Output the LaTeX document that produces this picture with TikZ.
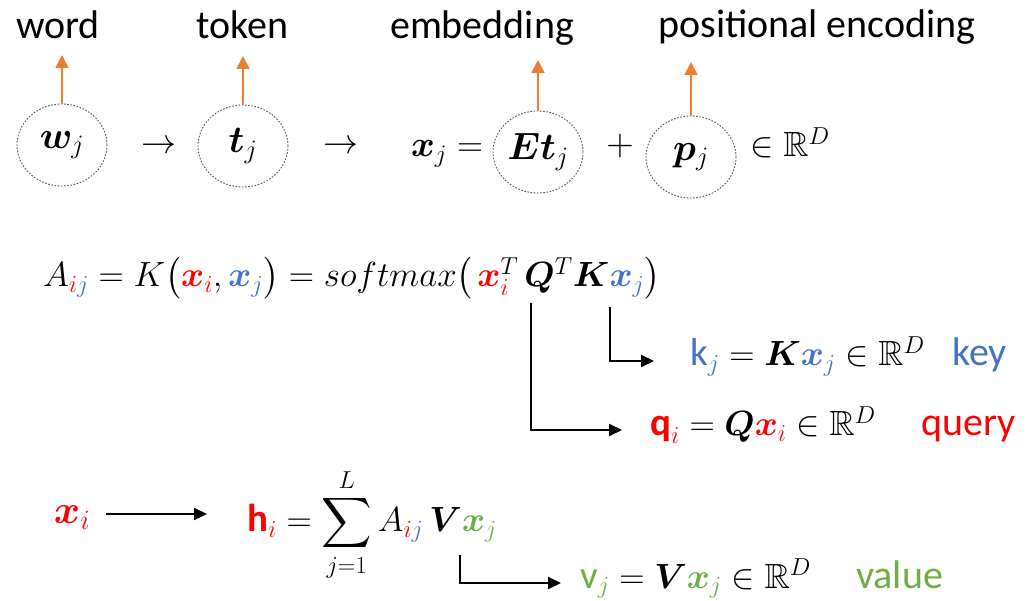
\RequirePackage{fix-cm}
\documentclass[tikz,border=0pt]{standalone}
\usepackage{amsmath,amssymb,bm}
\usepackage{fontspec}
\setmainfont{Carlito}
\usetikzlibrary{arrows.meta,shapes.geometric}
\definecolor{myred}{RGB}{255,0,0}
\definecolor{myblue}{RGB}{68,114,196}
\definecolor{mygreen}{RGB}{112,173,71}
\definecolor{myorange}{RGB}{237,125,49}
\definecolor{circcol}{RGB}{68,84,106}
\newcommand{\vtxt}[1]{\text{\fontsize{39}{46}\selectfont #1}}
\tikzset{
  lbl/.style={font=\fontsize{40}{48}\selectfont, anchor=base, inner sep=0},
  mth/.style={font=\fontsize{35}{42}\selectfont, inner sep=0},
  bigmth/.style={font=\fontsize{40}{48}\selectfont, inner sep=0},
  circnode/.style={ellipse, draw=circcol, dash pattern=on 1.6pt off 1.6pt, line width=0.9pt,
    minimum width=90pt, minimum height=82pt, inner sep=0, font=\fontsize{38}{46}\selectfont},
  oarr/.style={draw=myorange, line width=1.8pt, -{Triangle[width=13pt,length=13pt]}},
  barr/.style={draw=black, line width=2pt, -{Triangle[width=12pt,length=13pt]}},
  chain/.style={mth, anchor=base west}
}
\begin{document}
\begin{tikzpicture}[x=1pt,y=-1pt]
\useasboundingbox (0,0) rectangle (1034,601);
% top labels
\node[lbl] (word) at (58,39) {word};
\node[lbl] (token) at (242,39) {token};
\node[lbl] (emb) at (482,39) {embedding};
\node[lbl] (pos) at (817,38) {positional encoding};
% circles
\node[circnode] (cw) at (62,145) {$\bm{w}_j$};
\node[circnode] (ct) at (243,146) {$\bm{t}_j$};
\node[circnode] (cE) at (538,152) {$\bm{E}\bm{t}_j$};
\node[circnode] (cp) at (691,157) {$\bm{p}_j$};
\coordinate (tw) at (62,55);
\coordinate (tt) at (243,56);
\coordinate (tE) at (538,60);
\coordinate (tp) at (691,62);
\draw[oarr] (cw.north) -- (tw);
\draw[oarr] (ct.north) -- (tt);
\draw[oarr] (cE.north) -- (tE);
\draw[oarr] (cp.north) -- (tp);
\node[mth] (ar1) at (159,147) {$\rightarrow$};
\node[mth] (ar2) at (341,147) {$\rightarrow$};
\node[chain, font=\fontsize{36}{44}\selectfont] (xj) at (411,157) {$\bm{x}_j =$};
\node[mth, font=\fontsize{38}{46}\selectfont] (plus) at (620,146) {$+$};
\node[chain] (inR) at (750,157) {$\in\mathbb{R}^D$};
% attention equation
\node[chain] (A1) at (43,287) {$A_{\textcolor{myred}{i}\textcolor{myblue}{j}} = K\bigl(\textcolor{myred}{\bm{x}_i}, \textcolor{myblue}{\bm{x}_j}\bigr) = softmax\bigl($};
\node[chain] (xiT) at (A1.base east) {$\mkern2mu\textcolor{myred}{\bm{x}}_{\textcolor{myred}{i}}^{T}$};
\node[chain] (QK) at (xiT.base east) {$\,\bm{Q}^T\bm{K}$};
\node[chain] (xjK) at (QK.base east) {$\textcolor{myblue}{\bm{x}_j}$};
\node[chain] (A2) at (xjK.base east) {$\bigr)$};
% key
\node[chain] (keq) at (690,366) {$\textcolor{myblue}{\vtxt{k}_j} = \bm{K}\textcolor{myblue}{\bm{x}_j} \in \mathbb{R}^D$};
\node[lbl, anchor=base west, text=myblue] (key) at (952,366) {key};
% query
\node[chain] (qeq) at (650,436) {$\textcolor{myred}{\vtxt{\bfseries q}_i} = \bm{Q}\textcolor{myred}{\bm{x}_i} \in \mathbb{R}^D$};
\node[lbl, anchor=base west, text=myred] (query) at (921,436) {query};
\coordinate (ks) at (610,307);
\coordinate (ke) at (654,361);
\coordinate (qs) at (531,303);
\coordinate (qe) at (622,430);
\draw[barr] (ks) |- (ke);
\draw[barr] (qs) |- (qe);
% output
\node[bigmth] (xi) at (72,518) {$\textcolor{myred}{\bm{x}_i}$};
\node[chain] (heq) at (247,532) {$\textcolor{myred}{\vtxt{\bfseries h}_i} = \displaystyle\sum_{j=1}^{L} A_{\textcolor{myred}{i}\textcolor{myblue}{j}}\,\bm{V}\textcolor{mygreen}{\bm{x}_j}$};
\draw[barr, shorten <=16pt, shorten >=40pt] ([yshift=4pt]xi.east) -- ([yshift=4pt]xi.east -| heq.west);
\node[chain] (veq) at (580,588) {$\textcolor{mygreen}{\vtxt{v}_j} = \bm{V}\textcolor{mygreen}{\bm{x}_j}\in\mathbb{R}^D$};
\node[lbl, anchor=base west, text=mygreen] (value) at (856,588) {value};
\coordinate (vs) at (460,555);
\coordinate (ve) at (561,583);
\draw[barr] (vs) |- (ve);
\end{tikzpicture}
\end{document}
